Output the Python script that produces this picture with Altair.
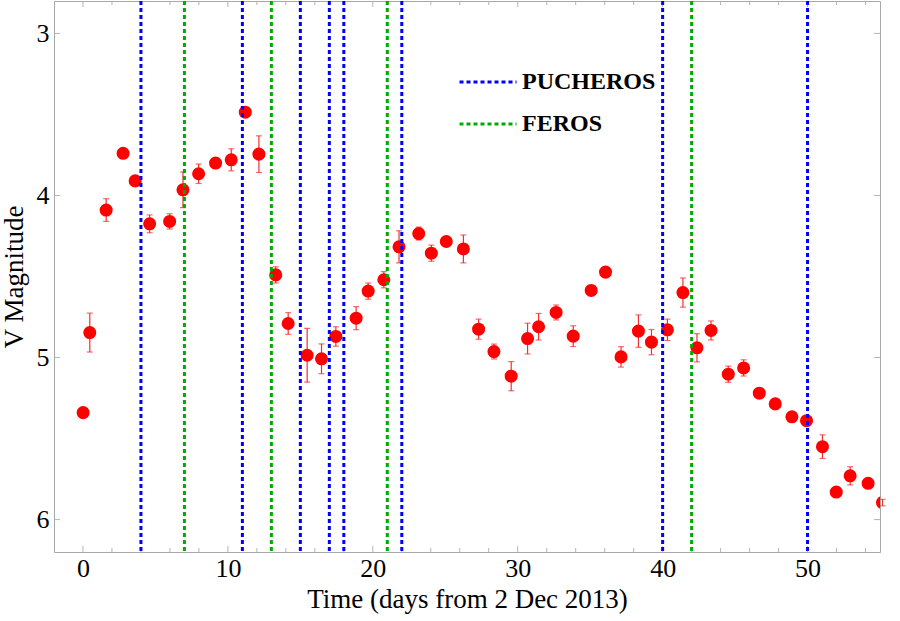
import altair as alt
import pandas as pd

# V-band light curve: days since 2 Dec 2013, magnitude, 1-sigma error
days = [0.01, 0.47, 1.6, 2.77, 3.6, 4.6, 5.98, 6.9, 7.98, 9.15, 10.23, 11.2, 12.14,
        13.3, 14.16, 15.47, 16.46, 17.45, 18.85, 19.68, 20.76, 21.81, 23.17, 24.04,
        25.07, 26.25, 27.3, 28.36, 29.55, 30.68, 31.44, 32.65, 33.83, 35.07, 36.06,
        37.13, 38.33, 39.23, 40.33, 41.4, 42.37, 43.34, 44.53, 45.59, 46.67, 47.77,
        48.92, 49.93, 51.03, 51.98, 52.94, 54.18, 55.17]
vmag = [5.34, 4.846, 4.09, 3.74, 3.91, 4.175, 4.16, 3.965, 3.866, 3.80, 3.78, 3.486, 3.745,
        4.49, 4.79, 4.986, 5.008, 4.87, 4.757, 4.59, 4.52, 4.317, 4.235, 4.356,
        4.284, 4.33, 4.825, 4.963, 5.115, 4.883, 4.81, 4.722, 4.868, 4.586, 4.473,
        4.996, 4.837, 4.905, 4.829, 4.599, 4.94, 4.833, 5.103, 5.064, 5.22, 5.286,
        5.366, 5.39, 5.55, 5.83, 5.73, 5.776, 5.895]
verr = [0.02, 0.12, 0.07, 0.02, 0.03, 0.055, 0.047, 0.11, 0.06, 0.03, 0.068, 0.02, 0.113,
        0.05, 0.067, 0.166, 0.092, 0.06, 0.071, 0.05, 0.05, 0.099, 0.04, 0.05,
        0.03, 0.086, 0.062, 0.046, 0.09, 0.095, 0.082, 0.046, 0.064, 0.02, 0.02,
        0.063, 0.10, 0.078, 0.066, 0.09, 0.087, 0.059, 0.05, 0.05, 0.03, 0.02,
        0.02, 0.02, 0.073, 0.02, 0.056, 0.02, 0.02]

# Epochs of spectroscopic observations
pucheros_days = [4, 11, 15, 17, 18, 22, 40, 50]
feros_days = [7, 13, 21, 42]

x_major = [0, 10, 20, 30, 40, 50]
x_minor = [2, 4, 6, 8, 12, 14, 16, 18, 22, 24, 26, 28, 32, 34, 36, 38, 42, 44, 46, 48, 52, 54]
y_major = [3, 4, 5, 6]

W, H = 826, 551
FONT = "Liberation Serif"
TICK_GRAY = "#b4b4b4"
ERR_RED = "#f03030"

lc = pd.DataFrame({"t": days, "mag": vmag, "err": verr})
lc["lo"] = lc["mag"] - lc["err"]
lc["hi"] = lc["mag"] + lc["err"]

spec = pd.DataFrame({
    "t": pucheros_days + feros_days,
    "inst": ["PUCHEROS"] * len(pucheros_days) + ["FEROS"] * len(feros_days),
})

xs = alt.Scale(domain=[-2, 55], nice=False, zero=False)
ys = alt.Scale(domain=[2.8, 6.2], nice=False, zero=False, reverse=True)

x_axis = alt.Axis(values=x_major, format="d", title="Time (days from 2 Dec 2013)",
                  ticks=False, domain=False, grid=False, labelFont=FONT, labelFontSize=26,
                  labelFontWeight="normal", labelColor="black", labelPadding=3,
                  titleFont=FONT, titleFontSize=27, titleFontWeight="normal",
                  titleColor="black", titlePadding=5)
y_axis = alt.Axis(values=y_major, format="d", title="V Magnitude", ticks=False,
                  domain=False, grid=False, labelFont=FONT, labelFontSize=26,
                  labelFontWeight="normal", labelColor="black", labelPadding=5,
                  titleFont=FONT, titleFontSize=27, titleFontWeight="normal",
                  titleColor="black", titlePadding=8)

base = alt.Chart(lc)

err_bars = base.mark_rule(color=ERR_RED, strokeWidth=1.2).encode(
    x=alt.X("t:Q", scale=xs, axis=x_axis),
    y=alt.Y("lo:Q", scale=ys, axis=y_axis),
    y2="hi:Q",
)
cap_lo = base.mark_tick(color=ERR_RED, orient="horizontal", size=6, thickness=1.2).encode(
    x=alt.X("t:Q", scale=xs), y=alt.Y("lo:Q", scale=ys))
cap_hi = base.mark_tick(color=ERR_RED, orient="horizontal", size=6, thickness=1.2).encode(
    x=alt.X("t:Q", scale=xs), y=alt.Y("hi:Q", scale=ys))

points = base.mark_circle(color="#ff0000", opacity=1, size=170, clip=True).encode(
    x=alt.X("t:Q", scale=xs), y=alt.Y("mag:Q", scale=ys))

spec_lines = alt.Chart(spec).mark_rule(strokeWidth=3, strokeDash=[4, 3]).encode(
    x=alt.X("t:Q", scale=xs),
    color=alt.Color(
        "inst:N",
        scale=alt.Scale(domain=["PUCHEROS", "FEROS"], range=["#0000ff", "#00aa00"]),
        legend=alt.Legend(orient="none", legendX=404, legendY=51, title=None,
                          symbolType="stroke", symbolSize=3249, symbolStrokeWidth=3,
                          symbolDash=[4, 3], labelFont=FONT, labelFontSize=24,
                          labelFontWeight="bold", labelColor="black", rowPadding=-5,
                          labelOffset=4, padding=0),
    ),
)

# Inward frame ticks (bottom/top on x, left/right on y)
xt_major = pd.DataFrame({"v": x_major})
xt_minor = pd.DataFrame({"v": x_minor})
yt = pd.DataFrame({"v": y_major})


def x_ticks(df, length):
    bottom = alt.Chart(df).mark_rule(color=TICK_GRAY, strokeWidth=1).encode(
        x=alt.X("v:Q", scale=xs), y=alt.value(H), y2=alt.value(H - length))
    top = alt.Chart(df).mark_rule(color=TICK_GRAY, strokeWidth=1).encode(
        x=alt.X("v:Q", scale=xs), y=alt.value(0), y2=alt.value(length))
    return [bottom, top]


tick_left = alt.Chart(yt).mark_rule(color=TICK_GRAY, strokeWidth=1).encode(
    y=alt.Y("v:Q", scale=ys), x=alt.value(0), x2=alt.value(6))
tick_right = alt.Chart(yt).mark_rule(color=TICK_GRAY, strokeWidth=1).encode(
    y=alt.Y("v:Q", scale=ys), x=alt.value(W), x2=alt.value(W - 6))

chart = alt.layer(
    *x_ticks(xt_major, 6), *x_ticks(xt_minor, 4), tick_left, tick_right,
    err_bars, cap_lo, cap_hi, points, spec_lines,
).properties(
    width=W, height=H,
    autosize=alt.AutoSizeParams(type="none"),
    padding={"left": 54, "top": 1, "right": 20, "bottom": 69},
    background="white",
).configure_view(
    stroke="#a8a8a8", strokeWidth=1,
)

chart.save("out.html", embed_options={"renderer": "svg", "actions": False})
